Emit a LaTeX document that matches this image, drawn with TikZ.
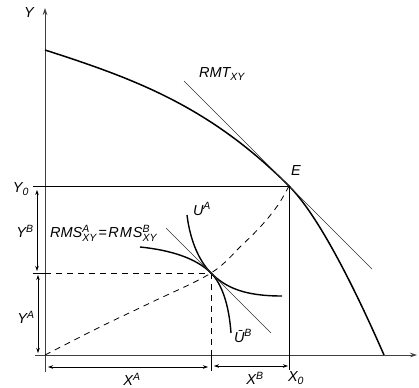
\documentclass[tikz,border=0pt]{standalone}
\usepackage{fontspec}
\setmainfont{Liberation Sans}
\usetikzlibrary{arrows.meta,calc}
\newcommand\smallit[1]{\hbox{\fontsize{10.5}{10.5}\selectfont\itshape #1}}
\begin{document}
\begin{tikzpicture}[x=1pt,y=-1pt,
  axis/.style={line width=0.7pt, draw=black!75, -{Stealth[length=7pt,width=4.5pt]}},
  ppf/.style={line width=1.5pt},
  frame/.style={line width=0.9pt},
  tang/.style={line width=0.6pt, draw=black!80},
  icurve/.style={line width=1.4pt},
  dashline/.style={line width=0.8pt, dash pattern=on 6pt off 5pt},
  dimline/.style={line width=0.6pt, {Stealth[length=5pt,width=3.5pt]}-{Stealth[length=5pt,width=3.5pt]}},
  tick/.style={line width=0.7pt},
  lbl/.style={font=\fontsize{14.5}{16}\selectfont\itshape, inner sep=0pt}]
\useasboundingbox (0,0) rectangle (419,387);

% key points
\coordinate (O) at (45,355);
\coordinate (E) at (289,186);
\coordinate (P) at (211,273);
\coordinate (Ytop) at (45,8);
\coordinate (Ybot) at (45,372);
\coordinate (Xl) at (35,355);
\coordinate (Xr) at (417,355);
\coordinate (F0) at (45,50);
\coordinate (F1) at (384,355);
\coordinate (Y0l) at (33,186);
\coordinate (Yml) at (33,273);
\coordinate (Pax) at (211,355);
\coordinate (Pt) at (211,371);
\coordinate (Eb) at (289,370);

% axes
\draw[axis] (Ybot) -- (Ytop);
\draw[axis] (Xl) -- (Xr);

% production possibility frontier
\draw[ppf] (F0) .. controls (135,79) and (209,106) .. (E)
               .. controls (324,221) and (366,314) .. (F1);

% RMT tangent
\draw[tang] ($(E)+(-105,-105)$) coordinate (T1) -- ($(E)+(83,83)$) coordinate (T2);

% Edgeworth box
\draw[frame] (Y0l) -- (E) -- (Eb);

% contract curve
\draw[dashline] plot[smooth, tension=0.6] coordinates {(45,355) (100,327) (150,303) (211,273) (242,245) (262,225) (278,205) (289,186)};

% dashed projections of P
\draw[tick] (Yml) -- (45,273);
\draw[dashline] (45,273) -- (P);
\draw[dashline] (P) -- (Pax);
\draw[tick] (Pax) -- (Pt);

% indifference curves
\draw[icurve] (187,215) .. controls (190,240) and (199,261) .. (P)
              .. controls (226,288) and (245,296) .. (282,296);
\draw[icurve] (140,247) .. controls (170,250) and (196,258) .. (P)
              .. controls (222,284) and (229,305) .. (231,333);

% RMS tangent
\draw[tang] ($(P)+(-45,-45)$) coordinate (S1) -- ($(P)+(60,60)$) coordinate (S2);

% dimension arrows
\draw[dimline] (37,190) -- (37,271);
\draw[dimline] (38,275) -- (38,353);
\draw[dimline] (48,367) -- (208,367);
\draw[dimline] (214,366) -- (288,366);

% labels
\node[lbl] (lY) at (29,13) {Y};
\node[lbl] (lE) at (296,171) {E};
\node[lbl] (lRMT) at (222,74) {RMT$_{\smallit{XY}}$};
\node[lbl] (lY0) at (21,189) {Y$_{\smallit{0}}$};
\node[lbl] (lYB) at (25,231) {Y$^{\smallit{B}}$};
\node[lbl] (lYA) at (26,317) {Y$^{\smallit{A}}$};
\node[lbl] (lXA) at (132,379) {X$^{\smallit{A}}$};
\node[lbl] (lXB) at (255,378) {X$^{\smallit{B}}$};
\node[lbl] (lX0) at (296,378) {X$_{\smallit{0}}$};
\node[lbl, anchor=west] (lRMS) at (50,233) {RMS$^{\smallit{A}}_{\smallit{XY}}$\kern1.5pt=\kern1.5pt R\kern1pt M\kern1pt S$^{\smallit{B}}_{\smallit{XY}}$};
\node[lbl] (lUA) at (202,209) {U$^{\smallit{A}}$};
\node[lbl] (lUB) at (243,336) {Ū$^{\smallit{B}}$};
\end{tikzpicture}
\end{document}
